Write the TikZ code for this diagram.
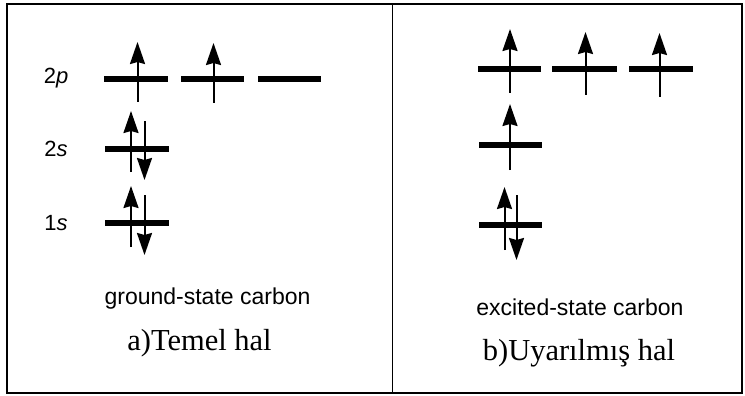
\documentclass[tikz,border=0pt]{standalone}
\usepackage{fontspec}
\setmainfont{Liberation Serif}
\setsansfont{Liberation Sans}
\usetikzlibrary{arrows.meta}
\tikzset{
  frame/.style={line width=1.5pt},
  level/.style={line width=6pt},
  spin/.style={line width=2pt,-{Stealth[length=22pt,width=15pt,inset=2pt]}},
  orb/.style={font=\sffamily\fontsize{22}{22}\selectfont,anchor=base},
  caption/.style={font=\sffamily\fontsize{23}{23}\selectfont,anchor=base},
  title/.style={font=\rmfamily\fontsize{30.5}{30.5}\selectfont,anchor=base}
}
\begin{document}
\begin{tikzpicture}[x=1pt,y=-1pt]
\useasboundingbox (0,0) rectangle (745,396);
% frame
\draw[frame] (7,4) rectangle (742,393);
\draw[frame] (392.5,4) -- (392.5,393);
% ---------- left panel: ground state ----------
\node[orb] (l2p) at (56,84) {2\textit{p}};
\node[orb] (l2s) at (56,157) {2\textit{s}};
\node[orb] (l1s) at (56,230) {1\textit{s}};
% 2p
\draw[level] (104,79) -- (168,79);
\draw[level] (181,79) -- (244,79);
\draw[level] (258,79) -- (321,79);
\draw[spin] (137.5,102) -- (137.5,42);
\draw[spin] (213.5,103) -- (213.5,43);
% 2s
\draw[level] (105,149) -- (169,149);
\draw[spin] (131,172) -- (131,111);
\draw[spin] (144.5,121) -- (144.5,180);
% 1s
\draw[level] (105,223) -- (169,223);
\draw[spin] (131,247) -- (131,186);
\draw[spin] (144.5,195) -- (144.5,255);
\node[caption] (gs) at (207.5,304) {ground-state carbon};
\node[title] (ta) at (199.5,350) {a)Temel hal};
% ---------- right panel: excited state ----------
% 2p
\draw[level] (478,69) -- (541,69);
\draw[level] (552,69) -- (617,69);
\draw[level] (629,69) -- (693,69);
\draw[spin] (510,93) -- (510,29);
\draw[spin] (585.5,95) -- (585.5,32);
\draw[spin] (659.5,97) -- (659.5,33);
% 2s
\draw[level] (479,145) -- (542,145);
\draw[spin] (510,170) -- (510,104);
% 1s
\draw[level] (479,225) -- (542,225);
\draw[spin] (504.5,250) -- (504.5,187);
\draw[spin] (516.5,195) -- (516.5,260);
\node[caption] (es) at (580,315) {excited-state carbon};
\node[title] (tb) at (579,360) {b)Uyarılmış hal};
\end{tikzpicture}
\end{document}
